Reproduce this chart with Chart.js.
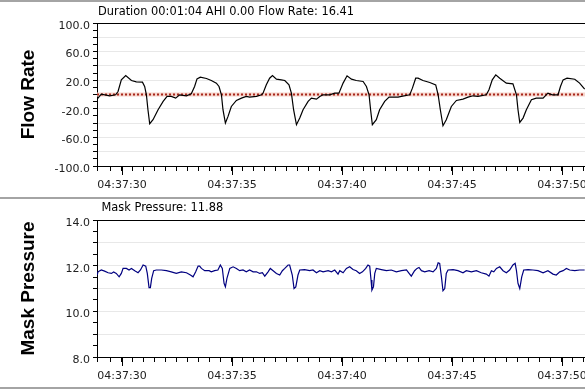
<!DOCTYPE html>
<html>
<head>
<meta charset="utf-8">
<script src="https://cdn.jsdelivr.net/npm/chart.js@4/dist/chart.umd.min.js"></script>
<style>
  html, body { margin: 0; padding: 0; background: #fff; }
  body { width: 585px; height: 390px; overflow: hidden; position: relative; }
  canvas { position: absolute; left: 0; }
  #flowCanvas { top: 0; }
  #pressCanvas { top: 199px; }
  .sep { position: absolute; left: 0; width: 585px; height: 2px; background: #a4a4a4; }
</style>
</head>
<body>
<div class="sep" style="top:0"></div>
<canvas id="flowCanvas" width="615" height="197"></canvas>
<div class="sep" style="top:197px"></div>
<canvas id="pressCanvas" width="615" height="189"></canvas>
<div class="sep" style="top:387px"></div>
<script>
// seconds after 04:37:00
var flowTimes = [28.87, 29.06, 29.44, 29.71, 29.82, 29.97, 30.17, 30.43, 30.65, 30.93, 31.03, 31.11, 31.18, 31.26, 31.41, 31.64, 31.87, 32.05, 32.24, 32.44, 32.62, 32.93, 33.15, 33.30, 33.41, 33.56, 33.84, 34.06, 34.29, 34.41, 34.52, 34.59, 34.70, 34.82, 34.97, 35.20, 35.43, 35.65, 35.80, 36.11, 36.34, 36.41, 36.56, 36.71, 36.84, 37.02, 37.24, 37.40, 37.59, 37.70, 37.80, 37.93, 38.08, 38.23, 38.46, 38.61, 38.84, 38.99, 39.14, 39.44, 39.67, 39.86, 40.05, 40.23, 40.43, 40.65, 40.96, 41.11, 41.23, 41.30, 41.38, 41.56, 41.71, 41.94, 42.14, 42.32, 42.55, 42.70, 43.08, 43.20, 43.35, 43.46, 43.68, 43.99, 44.26, 44.37, 44.47, 44.59, 44.74, 44.97, 45.20, 45.50, 45.73, 45.96, 46.18, 46.56, 46.68, 46.83, 46.99, 47.17, 47.47, 47.77, 47.93, 48.00, 48.08, 48.23, 48.38, 48.61, 48.83, 49.14, 49.36, 49.56, 49.82, 49.93, 50.05, 50.23, 50.58, 50.80, 51.03];
var flowValues = [-6.5, 0.5, -1.8, -0.4, 4.2, 20.5, 26.5, 19.6, 17.7, 17.3, 11.2, -0.4, -21.3, -40.9, -35.3, -21.3, -9.7, -2.7, -2.7, -5.1, -0.4, -1.8, 1.0, 11.2, 21.9, 24.2, 22.4, 19.6, 15.9, 11.2, -0.4, -21.3, -39.9, -30.6, -16.7, -8.3, -5.1, -2.7, -3.7, -2.7, -0.4, 1.9, 13.5, 22.8, 26.5, 21.4, 20.5, 19.6, 13.5, 1.9, -21.3, -42.3, -33.0, -21.3, -9.7, -5.1, -6.5, -2.7, -0.4, -0.4, 1.9, 1.9, 15.9, 26.1, 21.4, 19.6, 18.2, 11.2, -0.4, -21.3, -42.3, -35.3, -21.3, -9.7, -3.7, -3.7, -3.7, -2.7, -0.4, 8.9, 22.8, 22.8, 19.6, 16.8, 13.5, -0.4, -21.3, -43.7, -35.3, -16.7, -8.3, -6.5, -3.7, -1.8, -2.7, -0.4, 6.6, 20.5, 27.5, 22.8, 15.9, 14.9, -0.4, -21.3, -39.0, -33.0, -21.3, -7.4, -5.1, -5.1, 1.9, -0.4, -0.4, 11.2, 20.5, 22.8, 21.4, 15.9, 7.5];

var pressTimes = [28.87, 28.91, 29.06, 29.21, 29.37, 29.52, 29.62, 29.74, 29.87, 29.97, 30.05, 30.20, 30.32, 30.43, 30.58, 30.73, 30.84, 30.96, 31.08, 31.15, 31.23, 31.29, 31.35, 31.44, 31.56, 31.79, 32.02, 32.24, 32.47, 32.70, 32.93, 33.11, 33.23, 33.35, 33.46, 33.53, 33.61, 33.76, 33.96, 34.06, 34.21, 34.36, 34.47, 34.56, 34.64, 34.70, 34.77, 34.90, 35.05, 35.20, 35.35, 35.50, 35.65, 35.80, 35.96, 36.11, 36.26, 36.38, 36.49, 36.64, 36.74, 36.87, 37.02, 37.17, 37.29, 37.40, 37.55, 37.62, 37.74, 37.82, 37.90, 38.00, 38.08, 38.30, 38.53, 38.68, 38.84, 38.99, 39.14, 39.37, 39.52, 39.67, 39.82, 39.90, 40.05, 40.20, 40.35, 40.50, 40.65, 40.80, 40.93, 41.08, 41.18, 41.26, 41.32, 41.36, 41.43, 41.49, 41.56, 41.79, 42.02, 42.24, 42.47, 42.70, 42.93, 43.05, 43.15, 43.30, 43.41, 43.50, 43.61, 43.76, 43.96, 44.14, 44.29, 44.37, 44.44, 44.52, 44.59, 44.67, 44.74, 44.82, 45.05, 45.27, 45.50, 45.65, 45.88, 46.11, 46.33, 46.56, 46.68, 46.79, 46.90, 47.02, 47.17, 47.32, 47.47, 47.62, 47.77, 47.87, 47.93, 48.00, 48.08, 48.17, 48.26, 48.46, 48.68, 48.91, 49.14, 49.36, 49.59, 49.74, 49.90, 50.05, 50.20, 50.35, 50.58, 50.80, 51.03];
var pressValues = [11.59, 11.73, 11.81, 11.76, 11.69, 11.66, 11.72, 11.66, 11.51, 11.66, 11.88, 11.88, 11.81, 11.88, 11.78, 11.69, 11.81, 12.03, 11.98, 11.66, 11.04, 11.04, 11.44, 11.78, 11.81, 11.81, 11.78, 11.73, 11.66, 11.73, 11.69, 11.59, 11.51, 11.73, 11.98, 11.98, 11.88, 11.78, 11.78, 11.73, 11.78, 11.81, 12.03, 11.88, 11.22, 11.07, 11.44, 11.88, 11.95, 11.88, 11.78, 11.81, 11.73, 11.81, 11.73, 11.73, 11.66, 11.69, 11.54, 11.73, 11.88, 11.78, 11.66, 11.59, 11.78, 11.88, 12.03, 12.03, 11.59, 11.00, 11.07, 11.59, 11.81, 11.83, 11.78, 11.81, 11.69, 11.78, 11.73, 11.78, 11.73, 11.81, 11.63, 11.78, 11.69, 11.88, 11.95, 11.83, 11.78, 11.66, 11.73, 11.88, 12.03, 11.98, 11.37, 10.93, 11.07, 11.66, 11.88, 11.83, 11.78, 11.81, 11.73, 11.78, 11.81, 11.66, 11.54, 11.78, 11.88, 11.92, 11.78, 11.73, 11.78, 11.73, 11.88, 12.13, 12.10, 11.51, 10.90, 11.00, 11.66, 11.81, 11.83, 11.78, 11.69, 11.78, 11.73, 11.78, 11.69, 11.63, 11.54, 11.78, 11.73, 11.88, 11.95, 11.78, 11.69, 11.81, 12.03, 12.10, 11.78, 11.22, 11.00, 11.51, 11.81, 11.83, 11.81, 11.78, 11.69, 11.78, 11.63, 11.59, 11.73, 11.78, 11.88, 11.81, 11.78, 11.81, 11.81];

var zeroLine = [0, 0];
var timeRange = [28.864, 52];
var flowTicksLabelled = [-100, -60, -20, 20, 60, 100];
var pressTicksLabelled = [8, 10, 12, 14];
var flowTitle = 'Duration 00:01:04 AHI 0.00 Flow Rate: 16.41';
var pressTitle = 'Mask Pressure: 11.88';

var tickFont = { family: 'DejaVu Sans', size: 11 };

// draws the panel caption and the longer tick marks at labelled times
var panelExtras = {
    id: 'panelExtras',
    afterDraw: function (chart, args, opts) {
        var ctx = chart.ctx;
        var area = chart.chartArea;
        var xs = chart.scales.x;
        ctx.save();
        ctx.strokeStyle = '#000';
        ctx.lineWidth = 1;
        xs.ticks.forEach(function (t) {
            if (Math.abs(t.value % 5) < 1e-6) {
                var px = Math.round(xs.getPixelForValue(t.value)) + 0.5;
                ctx.beginPath();
                ctx.moveTo(px, area.bottom);
                ctx.lineTo(px, area.bottom + 9);
                ctx.stroke();
            }
        });
        ctx.font = '11.4px "DejaVu Sans"';
        ctx.fillStyle = '#000';
        ctx.textBaseline = 'middle';
        ctx.fillText(opts.text, area.left + opts.dx, area.top + opts.dy);
        ctx.restore();
    }
};

function timeLabel(value) {
    if (Math.abs(value % 5) < 1e-6) {
        return '04:37:' + String(Math.round(value)).padStart(2, '0');
    }
    return '';
}

function makeXScale(xHeight) {
    return {
        type: 'linear',
        min: timeRange[0],
        max: timeRange[1],
        border: { color: '#000', width: 1 },
        grid: { drawOnChartArea: false, tickLength: 5, tickColor: '#000' },
        ticks: {
            stepSize: 0.5,
            autoSkip: false,
            maxRotation: 0,
            padding: 8,
            color: '#222',
            font: tickFont,
            callback: timeLabel
        },
        afterFit: function (scale) { scale.height = xHeight; }
    };
}

function makeYScale(title, min, max, step, labelled, gridStep) {
    return {
        min: min,
        max: max,
        border: { color: '#000', width: 1 },
        grid: {
            tickLength: 4,
            tickColor: '#000',
            color: function (c) {
                var v = c.tick.value;
                if (v === max) return '#000';
                if (v === min) return 'rgba(0,0,0,0)';
                return Math.abs((v - min) % gridStep) < 1e-6 ? '#e8e8e8' : 'rgba(0,0,0,0)';
            }
        },
        ticks: {
            stepSize: step,
            autoSkip: false,
            padding: 3,
            labelOffset: 3,
            color: '#222',
            font: tickFont,
            callback: function (value) {
                return labelled.indexOf(value) >= 0 ? value.toFixed(1) : '';
            }
        },
        title: {
            display: true,
            text: title,
            color: '#000',
            font: { family: 'Liberation Sans', size: 19, weight: 'bold' },
            padding: { top: 17, bottom: 0 }
        },
        afterFit: function (scale) { scale.width = 97; }
    };
}

function toPoints(xs, ys) {
    return xs.map(function (x, i) { return { x: x, y: ys[i] }; });
}

new Chart(document.getElementById('flowCanvas'), {
    type: 'line',
    data: {
        datasets: [
            {
                label: 'Flow Rate',
                data: toPoints(flowTimes, flowValues),
                borderColor: '#000',
                borderWidth: 1.2,
                pointRadius: 0,
                tension: 0,
                order: 1
            },
            {
                label: 'zero',
                data: toPoints(timeRange, zeroLine),
                borderColor: '#a8281c',
                borderWidth: 2,
                borderDash: [2, 2],
                pointRadius: 0,
                order: 2
            },
            {
                label: 'zero halo',
                data: toPoints(timeRange, zeroLine),
                borderColor: '#f6d4cc',
                borderWidth: 4,
                pointRadius: 0,
                order: 3
            }
        ]
    },
    options: {
        responsive: false,
        animation: false,
        devicePixelRatio: 1,
        layout: { padding: { top: 23, right: 9, bottom: 0, left: 0 } },
        plugins: {
            legend: { display: false },
            tooltip: { enabled: false },
            panelExtras: { text: flowTitle, dx: 1, dy: -10.5 }
        },
        scales: {
            x: makeXScale(31),
            y: makeYScale('Flow Rate', -100, 100, 10, flowTicksLabelled, 20)
        }
    },
    plugins: [panelExtras]
});

new Chart(document.getElementById('pressCanvas'), {
    type: 'line',
    data: {
        datasets: [{
            label: 'Mask Pressure',
            data: toPoints(pressTimes, pressValues),
            borderColor: '#000080',
            borderWidth: 1.2,
            pointRadius: 0,
            tension: 0
        }]
    },
    options: {
        responsive: false,
        animation: false,
        devicePixelRatio: 1,
        layout: { padding: { top: 21, right: 9, bottom: 0, left: 0 } },
        plugins: {
            legend: { display: false },
            tooltip: { enabled: false },
            panelExtras: { text: pressTitle, dx: 4.5, dy: -11.7 }
        },
        scales: {
            x: makeXScale(31),
            y: makeYScale('Mask Pressure', 8, 14, 0.5, pressTicksLabelled, 1)
        }
    },
    plugins: [panelExtras]
});
</script>
</body>
</html>
